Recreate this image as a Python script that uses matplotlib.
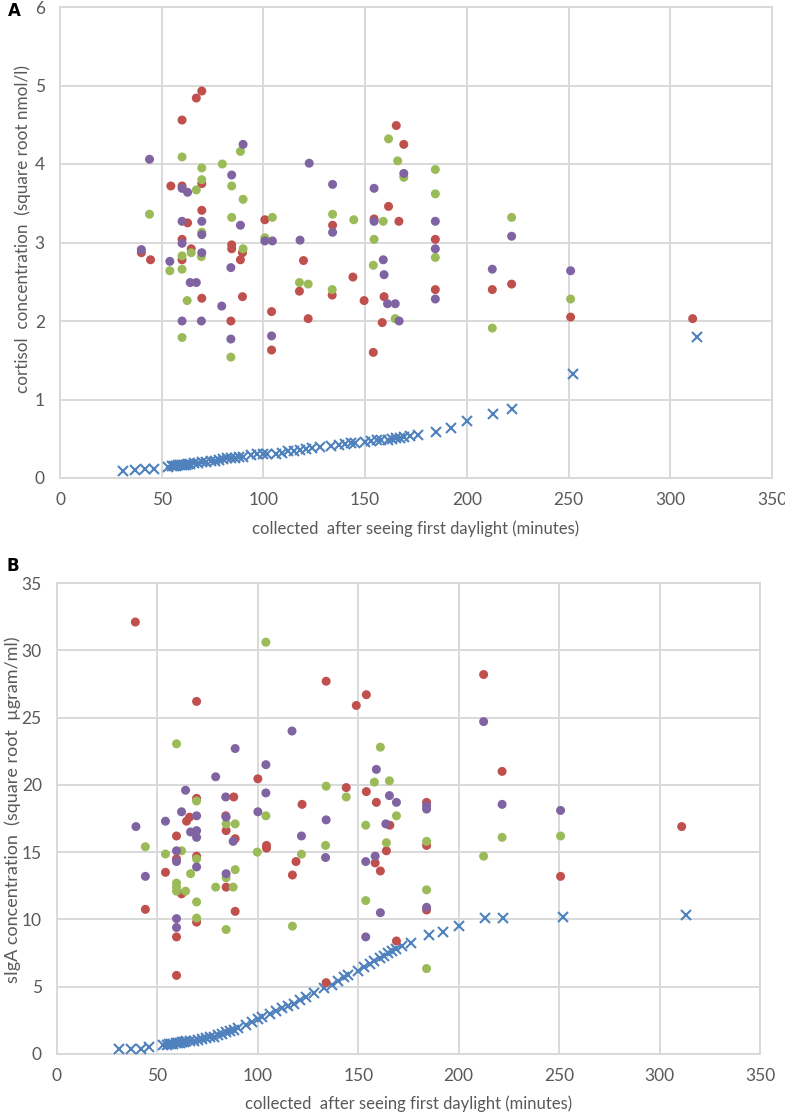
import matplotlib
matplotlib.use("Agg")
import matplotlib.pyplot as plt

plt.rcParams["font.family"] = ["Lato", "DejaVu Sans"]

# --- Palette (Excel 2007 style) ---
RED = "#C0504D"
GREEN = "#9BBB59"
PURPLE = "#8064A2"
BLUE = "#4F81BD"
GRID = "#D9D9D9"
TXT = "#595959"

# ---------------- Panel A: cortisol ----------------
a_red_x = [40, 44.5, 54.5, 60, 60, 62.7, 60, 64.5, 60, 67, 69.7, 69.7, 69.7, 69.7, 84.4, 84.4, 84, 89.7,
           88.7, 89.7, 100.7, 104, 104, 119.7, 117.7, 122, 134, 133.8, 144, 149.5, 154, 154.4, 161.5,
           166.6, 165.3, 169, 159.3, 158.4, 184.5, 184.5, 212.5, 222, 251, 311]
a_red_y = [2.87, 2.78, 3.72, 4.56, 3.72, 3.25, 3.04, 2.92, 2.78, 4.84, 4.93, 3.75, 3.41, 2.29, 2.97, 2.92, 2.0, 2.87,
           2.78, 2.31, 3.29, 2.12, 1.63, 2.77, 2.38, 2.03, 3.22, 2.33, 2.56, 2.26, 1.60, 3.30, 3.46,
           3.27, 4.49, 4.25, 2.31, 1.98, 3.04, 2.40, 2.40, 2.47, 2.05, 2.03]

a_green_x = [44, 60, 64.5, 60, 67, 69.7, 69.7, 69.7, 69.5, 79.8, 84.4, 84.4, 88.7, 90, 90, 100.7, 104.4, 134,
             144.4, 158.9, 161.5, 154.4, 166, 169, 184.5, 184.5, 184.5, 222, 54, 60, 62.5, 60, 84, 117.7,
             122, 133.8, 154, 164.8, 212.5, 251]
a_green_y = [3.36, 4.09, 2.87, 2.83, 3.67, 3.95, 3.80, 3.13, 2.82, 4.0, 3.72, 3.32, 4.16, 3.55, 2.92, 3.06, 3.32, 3.36,
             3.29, 3.27, 4.32, 3.04, 4.04, 3.83, 3.93, 3.62, 2.81, 3.32, 2.64, 2.66, 2.26, 1.79, 1.54, 2.49,
             2.47, 2.40, 2.71, 2.03, 1.91, 2.28]

a_purple_x = [44, 40, 54, 60, 62.7, 60, 60, 69.7, 69.7, 69.7, 84.4, 90, 88.7, 100.7, 104.4, 118, 122.5, 134,
              134, 154.4, 154.4, 158.9, 169, 184.5, 222, 64, 67, 60, 69.5, 84, 79.5, 84, 104, 159.3, 161,
              164.8, 166.7, 184.5, 184.5, 212.5, 251]
a_purple_y = [4.06, 2.91, 2.76, 3.69, 3.64, 3.27, 2.99, 3.27, 3.10, 2.87, 3.86, 4.25, 3.22, 3.02, 3.02, 3.03, 4.01, 3.74,
              3.13, 3.69, 3.27, 2.78, 3.88, 3.27, 3.08, 2.49, 2.49, 2.0, 2.0, 2.68, 2.19, 1.77, 1.81, 2.59, 2.22,
              2.22, 2.0, 2.92, 2.28, 2.66, 2.64]

# sampling times (shared by the x-marker series of both panels)
times = [31, 37, 42, 46, 53, 55, 56, 57, 58, 59, 60, 61, 62, 63, 64, 66, 68, 70, 72, 74, 76, 78, 80, 82, 84,
         86, 88, 90, 94, 97, 100, 102, 106, 109, 112, 115, 118, 121, 124, 128, 133, 137, 140, 143, 145,
         150, 153, 156, 158, 161, 163, 165, 167, 169, 172, 176, 185, 192, 200, 213, 222, 252, 313]
a_cross_y = [0.09, 0.10, 0.11, 0.12, 0.14, 0.15, 0.15, 0.15, 0.16, 0.16, 0.17, 0.17, 0.17, 0.18, 0.18, 0.19,
             0.19, 0.20, 0.21, 0.22, 0.22, 0.23, 0.24, 0.25, 0.25, 0.26, 0.27, 0.27, 0.29, 0.30, 0.30, 0.30,
             0.31, 0.32, 0.34, 0.35, 0.36, 0.37, 0.38, 0.39, 0.41, 0.42, 0.43, 0.44, 0.45, 0.46, 0.47, 0.48,
             0.49, 0.49, 0.50, 0.51, 0.51, 0.52, 0.53, 0.55, 0.59, 0.64, 0.72, 0.81, 0.88, 1.33, 1.80]

# ---------------- Panel B: sIgA ----------------
b_red_x = [39, 134, 154, 149, 69.5, 100, 144, 154, 159, 69.5, 88, 122, 66, 64.5, 84, 44, 54, 59.5, 59.5, 62,
           59.5, 59.5, 69.5, 69.5, 84.2, 84.2, 88.7, 88.7, 104.3, 104.3, 119, 117.2, 134, 158.4, 161, 165.7,
           164, 169, 184, 184, 184, 212.4, 221.6, 250.7, 311]
b_red_y = [32.1, 27.7, 26.7, 25.9, 26.2, 20.45, 19.8, 19.5, 18.7, 19.0, 19.1, 18.55, 17.6, 17.3, 17.7, 10.75, 13.5,
           16.2, 14.5, 11.9, 8.7, 5.84, 14.7, 9.8, 16.6, 12.4, 16.0, 10.6, 15.5, 15.3, 14.3, 13.3, 5.3, 14.2,
           13.6, 17.0, 15.1, 8.4, 18.7, 15.5, 10.7, 28.2, 21.0, 13.2, 16.9]

b_green_x = [104, 59.5, 161, 134, 158, 165.5, 69.5, 144, 104, 44, 54, 62, 59.5, 59.5, 59.5, 64, 69.5, 66.5, 69.5,
             69.5, 79, 84.2, 84.2, 84.2, 88.7, 88.7, 87.7, 99.7, 121.7, 117.2, 133.7, 153.7, 153.7, 164, 169,
             184, 184, 184, 212.4, 221.6, 250.7]
b_green_y = [30.6, 23.05, 22.8, 19.9, 20.2, 20.3, 18.8, 19.1, 17.7, 15.4, 14.86, 15.1, 12.7, 12.4, 12.1, 12.1, 14.5,
             13.4, 11.3, 10.1, 12.4, 17.1, 13.1, 9.25, 17.1, 13.7, 12.4, 15.0, 14.85, 9.5, 15.5, 17.0, 11.4, 15.7,
             17.7, 15.8, 12.2, 6.35, 14.7, 16.1, 16.2]

b_purple_x = [117, 88.7, 104, 159, 79, 64, 165.5, 169, 84, 104, 62, 100, 69.5, 54, 134, 163.7, 39.3, 44, 59.5,
              59.5, 59.5, 59.5, 66.5, 69.5, 69.5, 69.5, 84.2, 84.2, 87.7, 121.7, 133.7, 153.7, 153.7, 158.4,
              161, 184, 184, 184, 212.4, 221.6, 250.7]
b_purple_y = [24.0, 22.7, 21.5, 21.15, 20.6, 19.6, 19.2, 18.7, 19.1, 19.4, 18.0, 18.0, 17.7, 17.3, 17.4, 17.1, 16.9,
              13.2, 15.1, 14.3, 10.06, 9.4, 16.5, 16.6, 16.1, 13.9, 17.6, 13.4, 15.8, 16.2, 14.6, 14.3, 8.7, 14.7,
              10.5, 18.45, 18.2, 10.9, 24.7, 18.55, 18.1]

b_cross_y = [0.35, 0.35, 0.4, 0.55, 0.65, 0.7, 0.72, 0.75, 0.78, 0.8, 0.82, 0.85, 0.87, 0.9, 0.93, 0.97, 1.0,
             1.05, 1.1, 1.17, 1.25, 1.3, 1.4, 1.5, 1.6, 1.7, 1.8, 1.9, 2.15, 2.4, 2.6, 2.75, 3.0, 3.2, 3.4, 3.6,
             3.75, 4.0, 4.2, 4.5, 4.9, 5.1, 5.4, 5.7, 5.9, 6.2, 6.5, 6.7, 6.9, 7.1, 7.3, 7.5, 7.65, 7.8, 8.0,
             8.25, 8.85, 9.1, 9.5, 10.1, 10.07, 10.2, 10.35]

XLABEL = "collected  after seeing first daylight (minutes)"


def draw_panel(ax, reds, greens, purples, cross_y, ymax, ystep, ylabel, ylab_size, ylab_pos, xlab_y):
    ax.set_xlim(0, 350)
    ax.set_ylim(0, ymax)
    ax.set_xticks(range(0, 351, 50))
    ax.set_yticks(range(0, ymax + 1, ystep))
    ax.grid(True, color=GRID, linewidth=1.4)
    ax.set_axisbelow(True)
    for s in ax.spines.values():
        s.set_color(GRID)
        s.set_linewidth(1.4)
    ax.tick_params(length=0, labelsize=12.5, colors=TXT)
    ax.tick_params(axis="x", pad=10)
    ax.tick_params(axis="y", pad=11)

    ax.plot(times, cross_y, linestyle="none", marker="x", markersize=7,
            markeredgewidth=1.5, color=BLUE, zorder=3)
    for (xs, ys), col in zip([reds, greens, purples], [RED, GREEN, PURPLE]):
        ax.scatter(xs, ys, s=42, color=col, edgecolors="none", zorder=4)

    ax.set_xlabel(XLABEL, fontsize=12, color=TXT, va="center")
    ax.xaxis.set_label_coords(0.5, xlab_y)
    ax.set_ylabel(ylabel, fontsize=ylab_size, color=TXT, va="center")
    ax.yaxis.set_label_coords(*ylab_pos)


fig = plt.figure(figsize=(7.85, 11.16), dpi=100)
fig.patch.set_facecolor("white")

axA = fig.add_axes([60 / 785, 1 - 478 / 1116, 712 / 785, 471 / 1116])
draw_panel(axA, (a_red_x, a_red_y), (a_green_x, a_green_y), (a_purple_x, a_purple_y),
           a_cross_y, 6, 1, "cortisol  concentration  (square root nmol/l)", 12.3,
           ((23 - 60) / 712, (478 - 229) / 471), (478 - 529) / 471)

axB = fig.add_axes([57 / 785, 1 - 1054 / 1116, 703 / 785, 471 / 1116])
draw_panel(axB, (b_red_x, b_red_y), (b_green_x, b_green_y), (b_purple_x, b_purple_y),
           b_cross_y, 35, 5, "sIgA concentration  (square root  \u00b5gram/ml)", 13,
           ((13 - 57) / 703, (1054 - 810) / 471), (1054 - 1104) / 471)

fig.text(8 / 785, 1 - 11 / 1116, "A", fontsize=12, fontweight="bold", color="black",
         ha="left", va="center", family="DejaVu Sans")
fig.text(7 / 785, 1 - 566 / 1116, "B", fontsize=12, fontweight="bold", color="black",
         ha="left", va="center", family="DejaVu Sans")

fig.savefig("out.png", dpi=100, facecolor="white")
